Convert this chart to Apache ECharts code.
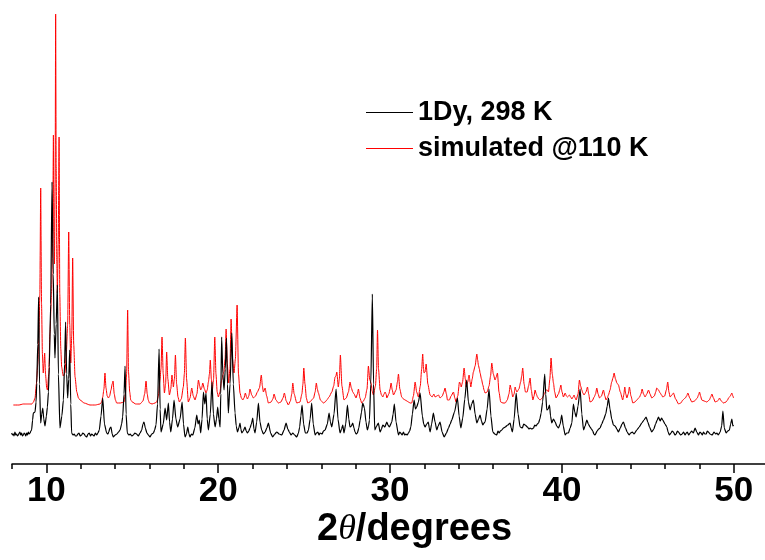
<!DOCTYPE html>
<html>
<head>
<meta charset="utf-8">
<script src="https://cdn.jsdelivr.net/npm/echarts@6/dist/echarts.min.js"></script>
<style>html,body{margin:0;padding:0;background:#fff}#c{width:765px;height:560px}</style>
</head>
<body>
<div id="c"></div>
<script>
const seriesNames = ['1Dy, 298 K', 'simulated @110 K'];
const tickLabels = [10, 20, 30, 40, 50];
const minorTicks = [8, 12, 14, 16, 18, 22, 24, 26, 28, 32, 34, 36, 38, 42, 44, 46, 48, 52];

// experimental pattern (2theta, intensity, arbitrary units)
const expData = [
[7.98,31],[8.03,29],[8.08,30],[8.12,28],[8.17,32],[8.22,29],[8.27,30],[8.32,28],[8.37,29],[8.42,31],[8.46,32],[8.51,29],[8.56,31],
[8.61,28],[8.66,29],[8.71,31],[8.76,30],[8.80,28],[8.85,31],[8.90,29],[8.95,32],[9.00,30],[9.05,31],[9.10,33],[9.14,34],
[9.20,44],[9.24,51],[9.34,52],[9.40,62],[9.44,81],[9.50,120],[9.55,167],[9.60,80],[9.67,41],[9.73,50],[9.79,56],[9.85,45],[9.92,38],
[10.00,48],[10.06,57],[10.12,72],[10.17,97],[10.25,160],[10.33,282],[10.40,190],[10.46,130],[10.50,106],[10.57,140],[10.64,179],
[10.70,90],[10.79,36],[10.90,48],[10.99,64],[11.06,100],[11.12,142],[11.18,90],[11.24,66],[11.30,85],[11.36,114],[11.42,60],[11.47,31],
[11.55,29],[11.62,30],[11.69,28],[11.76,28],[11.83,30],[11.9,31],[11.97,28],[12.05,29],[12.12,31],[12.2,30],[12.27,28],[12.35,27],
[12.42,30],[12.5,31],[12.57,28],[12.64,30],[12.71,29],[12.78,28],[12.85,31],[12.93,29],[13.00,31],[13.08,34],[13.18,48],[13.28,66],
[13.38,40],[13.51,31],[13.58,30],[13.63,32],[13.70,36],[13.76,37],[13.83,30],[13.90,27],[14.0,29],[14.1,30],[14.2,32],[14.29,34],
[14.38,40],[14.44,47],[14.52,70],[14.58,98],[14.64,50],[14.71,31],[14.8,29],[14.88,30],[14.97,28],[15.06,29],[15.15,31],[15.25,30],
[15.35,28],[15.45,31],[15.55,34],[15.62,40],[15.68,42],[15.76,36],[15.85,31],[15.94,29],[16.03,27],[16.13,30],[16.23,31],[16.30,34],[16.38,39],
[16.47,60],[16.56,115],[16.62,55],[16.67,32],[16.80,40],[16.91,56],[17.00,44],[17.10,61],[17.17,42],[17.24,32],[17.34,45],[17.43,64],
[17.54,45],[17.64,37],[17.78,45],[17.90,62],[17.98,40],[18.07,27],[18.15,30],[18.23,37],[18.30,30],[18.36,27],[18.44,30],
[18.52,29],[18.64,36],[18.75,49],[18.83,40],[18.90,44],[18.98,31],[19.06,45],[19.14,72],[19.22,60],[19.29,71],[19.36,45],[19.43,34],
[19.54,50],[19.64,82],[19.72,50],[19.82,37],[19.90,45],[19.97,57],[20.04,45],[20.11,37],[20.15,70],[20.20,127],[20.27,90],
[20.34,74],[20.41,95],[20.48,126],[20.54,80],[20.59,51],[20.69,80],[20.79,131],[20.88,80],[20.98,51],[21.05,38],[21.12,32],[21.2,36],[21.27,41],
[21.32,35],[21.37,31],[21.46,33],[21.56,37],[21.63,33],[21.70,31],[21.78,33],[21.85,36],[21.93,40],[22.01,46],[22.08,35],
[22.14,31],[22.24,42],[22.34,61],[22.43,42],[22.53,34],[22.63,30],[22.73,32],[22.83,36],[22.92,41],[23.05,31],[23.17,27],[23.29,30],
[23.41,32],[23.55,30],[23.70,29],[23.83,34],[23.95,41],[24.05,35],[24.14,32],[24.24,29],[24.34,31],[24.45,29],
[24.57,27],[24.67,31],[24.74,37],[24.81,48],[24.88,59],[24.97,40],[25.07,31],[25.17,31],[25.25,34],[25.35,45],[25.44,61],[25.53,40],[25.64,29],
[25.72,31],[25.8,32],[25.87,29],[25.93,31],[26.05,30],[26.12,33],[26.22,34],[26.35,40],[26.45,51],[26.53,42],[26.61,37],[26.74,50],
[26.86,75],[26.97,45],[27.09,31],[27.18,35],[27.25,39],[27.32,31],[27.42,40],[27.52,59],[27.60,45],[27.67,37],[27.75,38],[27.83,41],
[27.90,36],[27.96,32],[28.03,30],[28.10,31],[28.18,36],[28.26,44],[28.34,52],[28.41,61],[28.51,56],[28.60,42],
[28.68,34],[28.75,38],[28.80,44],[28.88,80],[28.97,170],[29.04,80],[29.11,34],[29.22,38],[29.32,41],[29.42,32],[29.50,35],[29.58,39],
[29.70,37],[29.81,42],[29.88,39],[29.96,37],[30.10,42],[30.18,50],[30.25,60],[30.35,42],[30.49,29],[30.56,32],[30.62,31],[30.70,29],
[30.78,32],[30.85,29],[30.92,30],[31.00,29],[31.07,31],[31.14,33],[31.21,37],[31.30,50],[31.40,64],[31.48,55],[31.55,57],[31.65,62],[31.75,71],
[31.88,48],[31.96,40],[32.04,37],[32.13,40],[32.23,42],[32.28,36],[32.33,32],[32.42,40],[32.52,51],[32.62,42],[32.72,34],
[32.80,38],[32.91,42],[33.03,32],[33.15,27],[33.28,31],[33.40,36],[33.50,40],[33.59,44],[33.75,52],[33.92,66],[34.02,48],[34.12,36],
[34.23,46],[34.35,65],[34.46,84],[34.56,62],[34.66,54],[34.75,60],[34.85,64],[34.95,50],[35.05,41],[35.15,45],[35.24,49],
[35.32,43],[35.40,39],[35.47,41],[35.53,42],[35.65,55],[35.76,75],[35.87,48],[35.98,32],[36.10,30],[36.21,29],[36.28,33],[36.35,31],
[36.42,33],[36.50,34],[36.60,36],[36.70,37],[36.85,39],[36.99,41],[37.05,36],[37.12,32],[37.22,45],[37.34,71],[37.45,50],[37.57,37],
[37.70,36],[37.78,40],[37.86,39],[38.00,37],[38.08,35],[38.15,36],[38.25,35],[38.35,36],[38.42,39],[38.50,38],[38.57,40],[38.64,41],
[38.72,45],[38.79,51],[38.88,62],[39.00,90],[39.06,70],[39.12,54],[39.20,55],[39.28,59],[39.34,48],[39.41,41],[39.51,45],[39.61,42],
[39.70,38],[39.80,36],[39.90,40],[39.99,49],[40.08,38],[40.19,29],[40.28,31],[40.38,31],[40.48,36],[40.58,41],[40.67,60],[40.75,52],
[40.83,47],[40.94,58],[41.06,75],[41.16,50],[41.26,34],[41.35,38],[41.45,44],[41.54,40],[41.64,37],[41.72,35],[41.80,33],[41.86,30],
[41.93,29],[42.05,33],[42.14,35],[42.22,36],[42.32,40],[42.42,44],[42.55,50],[42.64,58],[42.71,66],[42.80,55],[42.90,45],[43.00,39],
[43.10,38],[43.20,35],[43.29,32],[43.40,36],[43.50,40],[43.58,42],[43.70,36],[43.80,32],[43.91,29],[44.00,31],[44.10,32],[44.20,30],
[44.36,34],[44.50,37],[44.65,41],[44.78,44],[44.90,47],[45.00,42],[45.10,37],[45.23,32],[45.35,35],[45.45,40],[45.55,44],[45.62,47],
[45.72,43],[45.80,46],[45.87,44],[46.00,40],[46.11,37],[46.18,32],[46.26,29],[46.35,31],[46.42,33],[46.49,32],[46.58,29],[46.65,30],
[46.72,33],[46.79,32],[46.90,29],[47.00,30],[47.08,32],[47.17,29],[47.24,31],[47.30,32],[47.38,29],[47.46,31],[47.55,33],[47.65,31],
[47.75,36],[47.85,32],[47.95,29],[48.03,32],[48.10,31],[48.17,29],[48.24,32],[48.32,30],[48.40,30],[48.46,33],[48.53,32],[48.62,30],
[48.75,29],[48.85,32],[48.95,30],[49.02,31],[49.10,29],[49.21,32],[49.30,38],[49.37,53],[49.45,36],[49.56,31],[49.65,33],[49.75,34],
[49.82,40],[49.89,45],[49.95,38],[49.99,39]
];

// simulated pattern (2theta, intensity, arbitrary units, offset)
const simData = [
[8.08,59],[8.4,59],[8.66,60],[8.9,60],[9.15,60],[9.25,62],[9.34,66],[9.42,80],[9.50,100],[9.57,130],[9.62,170],[9.67,276],[9.72,160],
[9.77,110],[9.82,91],[9.86,100],[9.90,111],[9.95,90],[10.02,76],[10.06,74],[10.14,90],[10.21,131],[10.30,170],[10.37,230],[10.41,329],
[10.44,230],[10.47,200],[10.51,280],[10.54,450],[10.57,300],[10.61,200],[10.64,171],[10.69,220],[10.74,327],[10.78,170],[10.84,115],[10.89,97],
[10.98,88],[11.08,91],[11.16,110],[11.24,140],[11.30,232],[11.36,140],[11.42,101],[11.48,130],[11.53,206],[11.59,120],[11.67,87],
[11.77,72],[11.87,66],[11.96,64],[12.2,61],[12.54,59],[12.85,59],[13.12,60],[13.22,62],[13.28,67],[13.35,75],[13.41,91],[13.47,76],
[13.54,68],[13.61,66],[13.68,68],[13.76,74],[13.83,80],[13.88,83],[13.95,70],[14.02,64],[14.09,61],[14.3,61],[14.52,62],[14.60,70],
[14.67,90],[14.73,154],[14.78,92],[14.85,72],[14.91,64],[15.0,62],[15.2,60],[15.45,60],[15.62,63],[15.72,70],[15.80,83],[15.87,70],
[15.93,64],[16.00,61],[16.15,60],[16.32,61],[16.42,62],[16.52,68],[16.61,84],[16.67,95],[16.73,127],[16.80,90],[16.87,71],[16.94,80],[17.00,112],
[17.07,85],[17.16,69],[17.24,75],[17.31,89],[17.36,82],[17.39,77],[17.45,85],[17.51,109],[17.58,80],[17.66,67],[17.74,62],[17.85,65],[17.97,77],
[18.03,90],[18.09,126],[18.16,85],[18.26,62],[18.36,66],[18.46,76],[18.55,68],[18.65,64],[18.76,70],[18.85,84],[18.92,78],[18.98,74],
[19.04,76],[19.10,81],[19.20,75],[19.29,71],[19.36,74],[19.43,82],[19.49,90],[19.54,104],[19.60,85],[19.66,74],[19.73,85],[19.80,127],
[19.87,90],[19.94,72],[20.01,67],[20.10,72],[20.20,84],[20.33,92],[20.40,105],[20.46,135],[20.53,100],[20.61,81],[20.68,95],[20.75,145],[20.83,105],
[20.92,91],[21.00,105],[21.10,159],[21.18,90],[21.27,71],[21.35,66],[21.43,64],[21.50,66],[21.58,71],[21.65,67],[21.70,65],[21.78,68],[21.85,75],
[21.95,69],[22.05,66],[22.17,68],[22.28,72],[22.40,76],[22.51,89],[22.57,78],[22.63,72],[22.73,76],[22.82,68],[22.92,61],[23.08,62],[23.18,65],[23.25,70],
[23.36,64],[23.50,61],[23.65,62],[23.77,66],[23.85,71],[23.96,63],[24.08,59],[24.20,63],[24.28,70],[24.34,81],[24.42,70],
[24.57,61],[24.76,62],[24.87,70],[24.93,80],[24.98,96],[25.05,80],[25.13,66],[25.21,61],[25.33,62],[25.44,64],[25.55,66],[25.64,72],[25.71,81],[25.77,75],[25.83,71],
[25.95,64],[26.12,61],[26.22,62],[26.32,64],[26.45,67],[26.61,72],[26.72,78],[26.80,87],[26.85,88],[26.90,92],[26.99,77],[27.05,85],[27.11,109],[27.20,78],
[27.32,64],[27.45,66],[27.58,72],[27.67,82],[27.75,76],[27.83,72],[27.91,70],[28.02,66],[28.10,70],[28.16,75],[28.25,66],[28.35,61],
[28.45,63],[28.55,66],[28.66,75],[28.74,98],[28.82,84],[28.90,81],[28.96,73],[29.03,69],[29.15,78],[29.22,95],[29.27,134],[29.33,95],
[29.42,74],[29.50,69],[29.58,67],[29.65,70],[29.71,72],[29.77,70],[29.81,66],[29.93,70],[30.00,75],[30.06,81],[30.13,74],[30.20,69],[30.35,74],
[30.43,82],[30.49,90],[30.57,75],[30.68,67],[30.78,65],[30.88,64],[30.98,63],[31.07,62],[31.17,61],[31.26,61],[31.36,68],[31.46,82],[31.55,72],[31.65,67],
[31.76,78],[31.84,95],[31.90,110],[31.95,95],[31.98,91],[32.04,92],[32.10,100],[32.20,80],[32.33,69],[32.45,67],[32.55,70],[32.62,67],[32.72,68],[32.82,69],
[32.91,66],[33.04,68],[33.13,72],[33.20,76],[33.28,70],[33.34,64],[33.45,64],[33.55,68],[33.69,72],[33.77,66],[33.84,62],[33.94,68],[34.04,82],
[34.10,80],[34.14,77],[34.22,82],[34.31,96],[34.38,85],[34.43,77],[34.52,82],[34.60,89],[34.66,82],[34.70,77],[34.78,85],[34.85,92],[34.95,98],[35.05,110],
[35.10,104],[35.14,99],[35.20,95],[35.24,91],[35.32,85],[35.40,79],[35.47,74],[35.53,71],[35.65,72],[35.76,78],[35.85,88],[35.92,101],[36.01,90],[36.11,84],
[36.18,87],[36.25,91],[36.34,72],[36.44,62],[36.57,61],[36.70,61],[36.82,64],[36.92,70],[36.99,79],[37.06,74],[37.14,67],[37.22,70],[37.28,77],[37.33,74],
[37.38,72],[37.50,75],[37.60,82],[37.66,88],[37.72,96],[37.80,80],[37.88,72],[37.98,72],[38.06,78],[38.15,86],[38.22,74],[38.31,64],[38.38,68],[38.44,74],
[38.51,70],[38.58,67],[38.66,65],[38.73,64],[38.86,66],[38.98,70],[39.08,74],[39.15,74],[39.22,72],[39.30,85],[39.37,106],[39.44,90],[39.51,81],[39.58,72],
[39.66,66],[39.80,70],[39.87,74],[39.94,79],[40.01,72],[40.09,67],[40.19,71],[40.26,68],[40.32,67],[40.38,68],[40.44,69],[40.51,67],[40.58,65],[40.65,67],
[40.71,69],[40.77,66],[40.83,64],[40.94,70],[41.02,84],[41.09,78],[41.16,74],[41.22,71],[41.29,69],[41.40,72],[41.49,77],[41.56,70],
[41.64,62],[41.76,63],[41.88,67],[41.96,70],[42.03,76],[42.11,70],[42.19,66],[42.30,68],[42.42,74],[42.50,68],[42.57,64],[42.64,66],[42.71,69],[42.80,74],
[42.90,82],[42.97,86],[43.04,91],[43.12,85],[43.20,81],[43.25,80],[43.29,79],[43.40,72],[43.54,64],[43.60,69],
[43.66,77],[43.72,70],[43.78,66],[43.86,70],[43.93,77],[44.02,68],[44.13,61],[44.25,62],[44.36,64],[44.52,67],[44.60,70],[44.67,75],[44.75,70],[44.84,67],
[44.94,70],[45.04,74],[45.13,70],[45.23,66],[45.38,68],[45.46,72],[45.52,76],[45.62,74],[45.72,71],[45.80,69],[45.87,67],[45.98,68],[46.08,74],
[46.16,82],[46.23,72],[46.30,67],[46.40,69],[46.49,71],[46.62,65],[46.79,60],[46.92,61],[47.04,64],[47.18,66],[47.26,68],[47.33,71],[47.44,66],[47.56,62],
[47.72,63],[47.88,66],[47.95,69],[48.01,72],[48.07,68],[48.14,64],[48.28,63],[48.43,62],[48.58,64],[48.66,67],[48.73,70],[48.82,66],[48.92,62],
[49.05,63],[49.12,64],[49.17,66],[49.28,63],[49.40,61],[49.55,62],[49.64,64],[49.70,66],[49.80,68],[49.89,71],[49.95,68],[49.99,66]
];

const chart = echarts.init(document.getElementById('c'), null, {renderer: 'canvas'});
const FONT = "'Liberation Sans', Arial, sans-serif";
const xmin = 8, xmax = 51.82;
chart.setOption({
  animation: false,
  backgroundColor: '#fff',
  grid: {left: 12, right: 0, top: 14, bottom: 96, containLabel: false},
  xAxis: [{
    type: 'value', min: xmin, max: xmax, position: 'bottom',
    axisLine: {show: true, onZero: false, lineStyle: {color: '#000', width: 1.5}},
    axisTick: {show: true, inside: false, length: 9, lineStyle: {color: '#000', width: 1.5}, customValues: tickLabels},
    axisLabel: {show: true, customValues: tickLabels, margin: 10, color: '#000', fontSize: 35, fontWeight: 'bold', fontFamily: FONT},
    splitLine: {show: false}
  }, {
    type: 'value', min: xmin, max: xmax, position: 'bottom',
    axisLine: {show: false, onZero: false},
    axisTick: {show: true, inside: false, length: 5, lineStyle: {color: '#000', width: 1.5}, customValues: minorTicks},
    axisLabel: {show: false},
    splitLine: {show: false}
  }],
  yAxis: {type: 'value', min: 0, max: 450, show: false},
  legend: {
    orient: 'vertical', left: 366, top: 99, itemGap: 9, itemWidth: 47, itemHeight: 14,
    padding: 0,
    textStyle: {fontSize: 27, fontWeight: 'bold', color: '#000', fontFamily: FONT, lineHeight: 26},
    data: [{name: seriesNames[0], icon: 'path://M0,0 L47,0 L47,1 L0,1 Z'}, {name: seriesNames[1], icon: 'path://M0,0 L47,0 L47,1 L0,1 Z'}]
  },
  graphic: [{
    type: 'text', left: 317, top: 511,
    style: {
      rich: {
        a: {fontSize: 38, fontWeight: 'bold', fontFamily: FONT, fill: '#000'},
        t: {fontSize: 36, fontStyle: 'italic', fontFamily: "'Liberation Serif', serif", fill: '#000'}
      },
      text: '{a|2}{t|θ}{a|/degrees}'
    }
  }],
  series: [{
    name: seriesNames[0], type: 'line', data: expData, xAxisIndex: 0,
    showSymbol: false, symbol: 'none', color: '#000', smooth: 0.2, smoothMonotone: 'x',
    lineStyle: {color: '#000', width: 1.2}, z: 3
  }, {
    name: seriesNames[1], type: 'line', data: simData, xAxisIndex: 0,
    showSymbol: false, symbol: 'none', color: '#ff0000', smooth: 0.2, smoothMonotone: 'x',
    lineStyle: {color: '#ff0000', width: 1}, z: 2
  }]
});
</script>
</body>
</html>
